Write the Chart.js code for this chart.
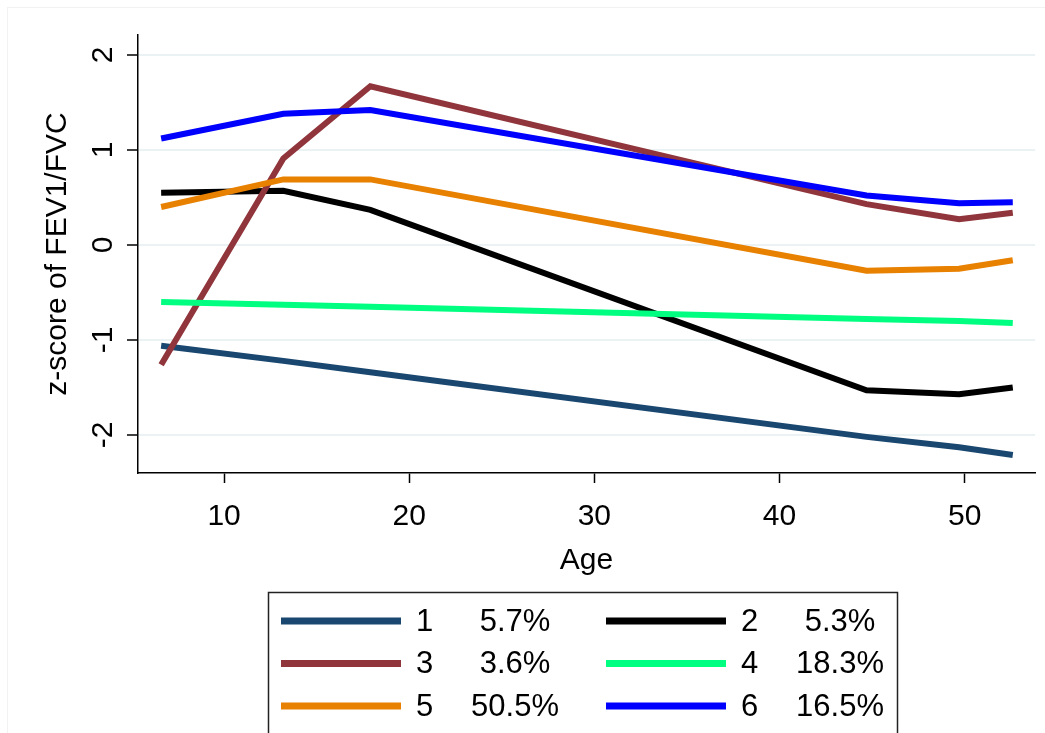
<!DOCTYPE html>
<html>
<head>
<meta charset="utf-8">
<title>z-score of FEV1/FVC by age</title>
<script src="https://cdn.jsdelivr.net/npm/chart.js@4/dist/chart.umd.min.js"></script>
<style>
  html, body { margin: 0; padding: 0; background: #fff; }
  canvas { display: block; }
</style>
</head>
<body>
<canvas id="c" width="1045" height="733"></canvas>
<script>
// Trajectory groups: mean z-score of FEV1/FVC at each survey age
const ages = [6.6, 13.2, 17.9, 44.7, 49.7, 52.6];
const group1 = [-1.06, -1.22, -1.34, -2.02, -2.13, -2.21];
const group2 = [0.55, 0.57, 0.37, -1.53, -1.57, -1.50];
const group3 = [-1.26, 0.91, 1.67, 0.43, 0.27, 0.34];
const group4 = [-0.60, -0.63, -0.65, -0.78, -0.80, -0.82];
const group5 = [0.40, 0.69, 0.69, -0.27, -0.25, -0.16];
const group6 = [1.12, 1.38, 1.42, 0.52, 0.44, 0.45];

const groupNames = ['1', '2', '3', '4', '5', '6'];
const groupShares = ['5.7%', '5.3%', '3.6%', '18.3%', '50.5%', '16.5%'];
const xTickValues = [10, 20, 30, 40, 50];
const yTickValues = [-2, -1, 0, 1, 2];

const seriesValues = [group1, group2, group3, group4, group5, group6];
const seriesColors = ['#1a476f', '#000000', '#90353b', '#00ff80', '#e88000', '#0000ff'];

const FONT = '"Liberation Sans", Arial, Helvetica, sans-serif';

// Rotated y tick labels, legend box and outer frame
const extras = {
  id: 'extras',
  afterDraw(chart) {
    const ctx = chart.ctx;
    const y = chart.scales.y;

    // faint outer frame
    ctx.save();
    ctx.strokeStyle = '#f2f2f2';
    ctx.lineWidth = 1;
    ctx.strokeRect(7.5, 7.5, 1100, 800);
    ctx.restore();

    // vertical tick labels on the y axis
    ctx.save();
    ctx.fillStyle = '#000';
    ctx.font = '30px ' + FONT;
    ctx.textAlign = 'center';
    ctx.textBaseline = 'middle';
    y.ticks.forEach(t => {
      const py = y.getPixelForValue(t.value);
      ctx.save();
      ctx.translate(104, py);
      ctx.rotate(-Math.PI / 2);
      ctx.fillText(String(t.value), 0, 0);
      ctx.restore();
    });
    ctx.restore();

    // legend: two columns, three rows, inside a framed box
    ctx.save();
    ctx.strokeStyle = '#222';
    ctx.lineWidth = 1.5;
    ctx.strokeRect(268.5, 592.5, 629, 200);
    const colX = [281, 606];
    const rowY = [621, 663.5, 706];
    ctx.font = '31px ' + FONT;
    ctx.textBaseline = 'middle';
    chart.data.datasets.forEach((ds, i) => {
      const cx = colX[i % 2];
      const cy = rowY[Math.floor(i / 2)];
      ctx.strokeStyle = ds.borderColor;
      ctx.lineWidth = 7;
      ctx.lineCap = 'butt';
      ctx.beginPath();
      ctx.moveTo(cx, cy);
      ctx.lineTo(cx + 120, cy);
      ctx.stroke();
      ctx.fillStyle = '#000';
      ctx.textAlign = 'left';
      ctx.fillText(groupNames[i], cx + 135, cy + 1);
      ctx.textAlign = 'center';
      ctx.fillText(groupShares[i], cx + 234, cy + 1);
    });
    ctx.restore();
  }
};

new Chart(document.getElementById('c'), {
  type: 'line',
  data: {
    datasets: seriesValues.map((vals, i) => ({
      label: groupNames[i] + ' ' + groupShares[i],
      data: ages.map((a, j) => ({ x: a, y: vals[j] })),
      borderColor: seriesColors[i],
      backgroundColor: seriesColors[i],
      borderWidth: 6,
      pointRadius: 0,
      tension: 0,
      fill: false,
      order: seriesValues.length - i
    }))
  },
  options: {
    responsive: false,
    animation: false,
    layout: { padding: { left: 0, top: 35, right: 10, bottom: 154 } },
    plugins: { legend: { display: false }, tooltip: { enabled: false } },
    scales: {
      x: {
        type: 'linear',
        min: 5.35,
        max: 53.8,
        afterBuildTicks: s => { s.ticks = xTickValues.map(v => ({ value: v })); },
        afterFit: s => { s.height = 106; },
        grid: { drawOnChartArea: false, tickLength: 10, tickColor: '#000', tickWidth: 1.5 },
        border: { color: '#000', width: 1.5 },
        ticks: { font: { family: FONT, size: 30 }, color: '#000', padding: 16, maxRotation: 0 },
        title: { display: true, text: 'Age', font: { family: FONT, size: 30 }, color: '#000', padding: { top: 0, bottom: 0 } }
      },
      y: {
        type: 'linear',
        min: -2.4,
        max: 2.21,
        afterBuildTicks: s => { s.ticks = yTickValues.map(v => ({ value: v })); },
        afterFit: s => { s.width = 138; },
        grid: { color: '#eaf2f3', lineWidth: 2, tickLength: 11, tickColor: '#000', tickWidth: 1.5 },
        border: { color: '#000', width: 1.5 },
        ticks: { display: false },
        title: { display: true, text: 'z-score of FEV1/FVC', font: { family: FONT, size: 30 }, color: '#000', padding: { top: 40, bottom: 0 } }
      }
    }
  },
  plugins: [extras]
});
</script>
</body>
</html>
